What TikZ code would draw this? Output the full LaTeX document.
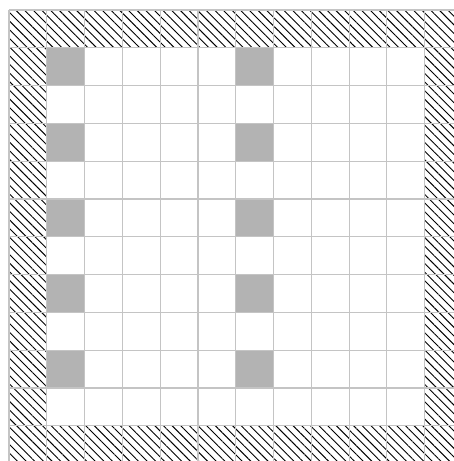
\documentclass[tikz,border=0pt]{standalone}
\usetikzlibrary{patterns.meta}
\definecolor{gridgray}{HTML}{C4C4C4}
\definecolor{cellgray}{HTML}{B3B3B3}
\tikzset{
  hatchcell/.style={pattern={Lines[angle=-45,distance=4.6pt,line width=0.7pt]},pattern color=black},
  graycell/.style={fill=cellgray},
  gridline/.style={draw=gridgray,line width=0.8pt}
}
\begin{document}
\begin{tikzpicture}
\useasboundingbox (0,0) rectangle (12.011,12.197);
\clip (0,0) rectangle (12.011,12.197);
\fill[white] (0,0) rectangle (12.011,12.197);
\begin{scope}[shift={(0.238,11.932)}]
  % hatched border ring
  \foreach \i in {0,...,11}{
    \fill[hatchcell] (\i,0) rectangle (\i+1,-1);
    \fill[hatchcell] (\i,-11) rectangle (\i+1,-12);
  }
  \foreach \j in {1,...,10}{
    \fill[hatchcell] (0,-\j) rectangle (1,-\j-1);
    \fill[hatchcell] (11,-\j) rectangle (12,-\j-1);
  }
  % gray cells
  \foreach \r in {1,3,5,7,9}{
    \fill[graycell] (1,-\r) rectangle (2,-\r-1);
    \fill[graycell] (6,-\r) rectangle (7,-\r-1);
  }
  % grid
  \draw[gridline] (0,0) grid (12,-12);
\end{scope}
\end{tikzpicture}
\end{document}
